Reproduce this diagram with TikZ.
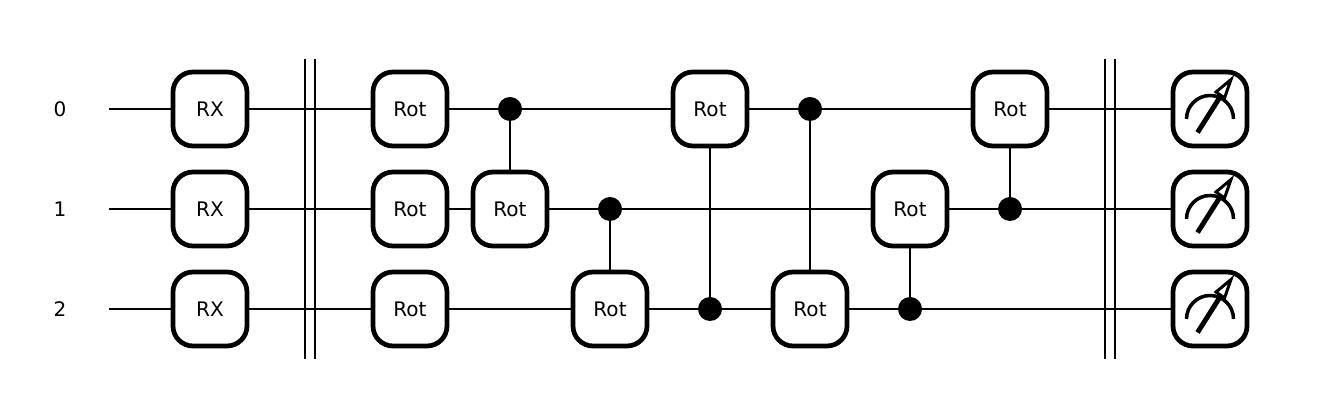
\documentclass[tikz,border=0pt]{standalone}
\usepackage{fontspec}
\setmainfont{DejaVu Sans}
\usetikzlibrary{positioning}
\tikzset{gate/.style = {draw=black, fill=white, rounded corners=0.2cm, line width=1.35pt, minimum size=0.74cm, inner sep=0pt, font=\fontsize{5.7pt}{6pt}\selectfont},
         ctrl/.style = {circle, fill=black, minimum size=0.24cm, inner sep=0pt, outer sep=0pt},
         wirelabel/.style = {font=\fontsize{5.7pt}{6pt}\selectfont, inner sep=0pt},
         wire/.style = {line width=0.57pt},
         barrier/.style = {line width=0.57pt},
         dial/.style = {line width=1pt}}

\begin{document}
\begin{tikzpicture}
            \useasboundingbox (0, 0) rectangle (13.2, 4.19);

            \node [wirelabel] (l0) at (0.6, 3.1) {0};
            \node [wirelabel] (l1) at (0.6, 2.1) {1};
            \node [wirelabel] (l2) at (0.6, 1.1) {2};

            \coordinate (in0) at (1.09, 3.1);
            \coordinate (in1) at (1.09, 2.1);
            \coordinate (in2) at (1.09, 1.1);

            \node [gate] (rx0) at (2.1, 3.1) {RX};
            \node [gate] (rx1) at (2.1, 2.1) {RX};
            \node [gate] (rx2) at (2.1, 1.1) {RX};

            \node [gate] (a0) at (4.1, 3.1) {Rot};
            \node [gate] (a1) at (4.1, 2.1) {Rot};
            \node [gate] (a2) at (4.1, 1.1) {Rot};

            \node [ctrl] (c1) at (5.1, 3.1) {};
            \node [gate] (t1) at (5.1, 2.1) {Rot};
            \node [ctrl] (c2) at (6.1, 2.1) {};
            \node [gate] (t2) at (6.1, 1.1) {Rot};
            \node [gate] (t3) at (7.1, 3.1) {Rot};
            \node [ctrl] (c3) at (7.1, 1.1) {};
            \node [ctrl] (c4) at (8.1, 3.1) {};
            \node [gate] (t4) at (8.1, 1.1) {Rot};
            \node [gate] (t5) at (9.1, 2.1) {Rot};
            \node [ctrl] (c5) at (9.1, 1.1) {};
            \node [gate] (t6) at (10.1, 3.1) {Rot};
            \node [ctrl] (c6) at (10.1, 2.1) {};

            \node [gate] (m0) at (12.1, 3.1) {};
            \node [gate] (m1) at (12.1, 2.1) {};
            \node [gate] (m2) at (12.1, 1.1) {};

            \draw [wire] (in0) -- (rx0) -- (a0) -- (c1) -- (t3) -- (c4) -- (t6) -- (m0);
            \draw [wire] (in1) -- (rx1) -- (a1) -- (t1) -- (c2) -- (t5) -- (c6) -- (m1);
            \draw [wire] (in2) -- (rx2) -- (a2) -- (t2) -- (c3) -- (t4) -- (c5) -- (m2);

            \draw [wire] (c1) -- (t1);
            \draw [wire] (c2) -- (t2);
            \draw [wire] (c3) -- (t3);
            \draw [wire] (c4) -- (t4);
            \draw [wire] (c5) -- (t5);
            \draw [wire] (c6) -- (t6);

            \coordinate (b1) at (3.05, 3.6);
            \coordinate (b2) at (3.05, 0.6);
            \coordinate (b3) at (3.15, 3.6);
            \coordinate (b4) at (3.15, 0.6);
            \coordinate (b5) at (11.05, 3.6);
            \coordinate (b6) at (11.05, 0.6);
            \coordinate (b7) at (11.15, 3.6);
            \coordinate (b8) at (11.15, 0.6);
            \draw [barrier] (b1) -- (b2);
            \draw [barrier] (b3) -- (b4);
            \draw [barrier] (b5) -- (b6);
            \draw [barrier] (b7) -- (b8);

            % dial and needle
            \foreach \m in {m0, m1, m2} {
                \draw [dial] ([shift={(-0.235, -0.1)}]\m.center) arc [start angle=180, end angle=0, radius=0.235];
                \draw [line width=1.4pt] ([shift={(-0.125, -0.235)}]\m.center) -- ([shift={(0.1, 0.12)}]\m.center);
                \draw [line width=0.85pt, line join=miter, fill=white] ([shift={(0.21, 0.295)}]\m.center) -- ([shift={(0.06, 0.17)}]\m.center) -- ([shift={(0.145, 0.11)}]\m.center) -- cycle;
            }
        \end{tikzpicture}
\end{document}
